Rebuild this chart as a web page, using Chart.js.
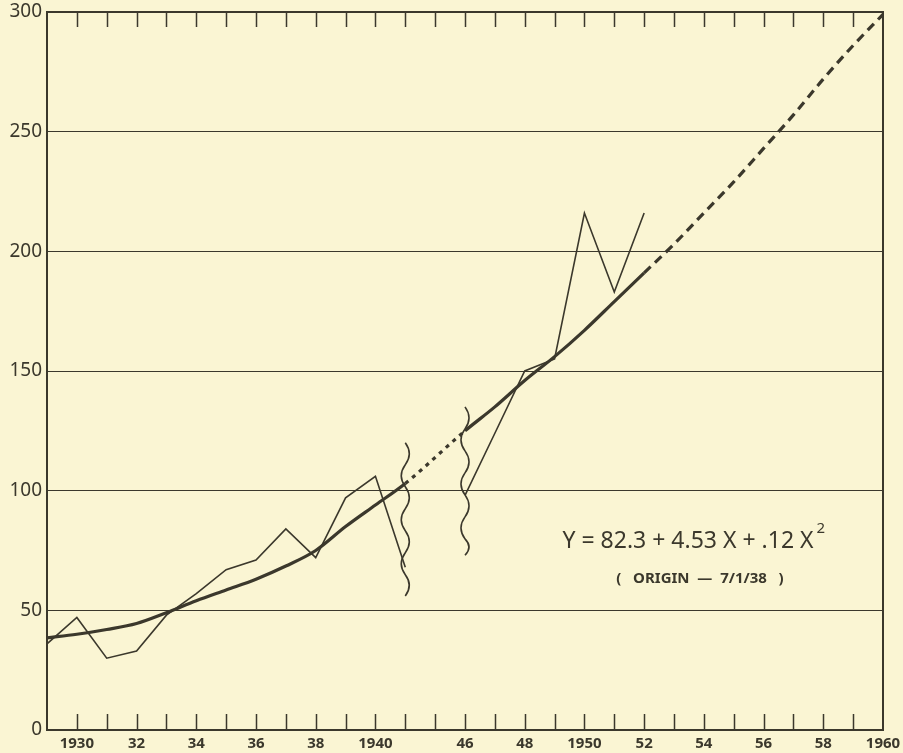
<!DOCTYPE html>
<html>
<head>
<meta charset="utf-8">
<script src="https://cdn.jsdelivr.net/npm/chart.js@4/dist/chart.umd.min.js"></script>
<style>
  html, body { margin: 0; padding: 0; background: #faf5d3; }
  #wrap { width: 903px; height: 753px; }
</style>
</head>
<body>
<div id="wrap"><canvas id="grafico"></canvas></div>
<script>
// valores
const anosAntes = [1929, 1930, 1931, 1932, 1933, 1934, 1935, 1936, 1937, 1938, 1939, 1940, 1941];
const realAntes = [36, 47, 30, 33, 48, 57, 67, 71, 84, 72, 97, 106, 68];
const anosDepois = [1946, 1947, 1948, 1949, 1950, 1951, 1952];
const realDepois = [98, 124, 150, 155, 216, 183, 216];

const anosTendencia = [1929, 1930, 1931, 1932, 1933, 1934, 1935, 1936, 1937, 1938, 1939, 1940, 1941,
                       1946, 1947, 1948, 1949, 1950, 1951, 1952, 1953, 1954, 1955, 1956, 1957, 1958, 1959, 1960];
const tendencia = [38.5, 40, 42, 44.5, 49, 54, 58.5, 63, 68.5, 75, 85, 94, 103,
                   125, 135, 146, 156, 167, 179, 191, 203, 216, 229, 243, 257, 272, 286, 299];

const yTicks = [0, 50, 100, 150, 200, 250, 300];
// quebras do eixo (rabiscos)
const quebras = [{ ano: 1941, de: 56, ate: 120 }, { ano: 1946, de: 73, ate: 135 }];

const cor = '#3b382c';

// eixo x comprimido: 1942-1945 cortados
function pos(ano) {
    return ano <= 1941 ? ano - 1929 : ano - 1932;
}
function anoDe(p) {
    if (p <= 12) return 1929 + p;
    if (p === 13) return null;
    return 1932 + p;
}
function rotulo(p) {
    const ano = anoDe(p);
    if (ano === null || ano % 2 !== 0) return '';
    if (ano % 10 === 0) return String(ano);
    return String(ano).slice(2);
}
const pontos = (anos, vals) => anos.map((a, i) => ({ x: pos(a), y: vals[i] }));

const extras = {
    id: 'extras',
    beforeDraw(chart) {
        const c = chart.ctx;
        c.save();
        c.fillStyle = '#faf5d3';
        c.fillRect(0, 0, chart.width, chart.height);
        c.restore();
    },
    afterDraw(chart) {
        const c = chart.ctx;
        const a = chart.chartArea;
        const sx = chart.scales.x;
        const sy = chart.scales.y;
        c.save();
        c.strokeStyle = cor;

        // moldura
        c.lineWidth = 2;
        c.strokeRect(a.left, a.top, a.right - a.left, a.bottom - a.top);

        // marcas para dentro, em cima e em baixo
        c.lineWidth = 1.5;
        for (let p = 1; p < 28; p++) {
            const x = Math.round(sx.getPixelForValue(p)) + 0.5;
            c.beginPath();
            c.moveTo(x, a.top);
            c.lineTo(x, a.top + 15);
            c.moveTo(x, a.bottom);
            c.lineTo(x, a.bottom - 16);
            c.stroke();
        }

        // rabiscos da quebra
        c.lineWidth = 1.6;
        quebras.forEach(q => {
            const x = sx.getPixelForValue(pos(q.ano));
            const y0 = sy.getPixelForValue(q.ate);
            const y1 = sy.getPixelForValue(q.de);
            const passo = 22;
            c.beginPath();
            c.moveTo(x, y0);
            let lado = 1;
            for (let y = y0; y < y1; y += passo) {
                const yf = Math.min(y + passo, y1);
                c.quadraticCurveTo(x + lado * 8, (y + yf) / 2, x, yf);
                lado = -lado;
            }
            c.stroke();
        });

        // equação
        c.fillStyle = cor;
        c.textBaseline = 'alphabetic';
        c.font = '23px "Noto Sans"';
        const eq = 'Y = 82.3 + 4.53 X + .12 X';
        const w = c.measureText(eq).width;
        const cx = 694;
        c.textAlign = 'left';
        c.fillText(eq, cx - (w + 12) / 2, 548);
        c.font = '15px "Noto Sans"';
        c.fillText('2', cx - (w + 12) / 2 + w + 3, 533);
        c.font = 'bold 15px "Noto Sans"';
        c.textAlign = 'center';
        c.fillText('(   ORIGIN  —  7/1/38   )', 700, 583);
        c.restore();
    }
};

new Chart(document.getElementById('grafico'), {
    type: 'line',
    data: {
        datasets: [{
            label: 'Real até 1941',
            data: pontos(anosAntes, realAntes),
            borderColor: cor,
            borderWidth: 1.6,
            pointRadius: 0,
            tension: 0
        }, {
            label: 'Real desde 1946',
            data: pontos(anosDepois, realDepois),
            borderColor: cor,
            borderWidth: 1.6,
            pointRadius: 0,
            tension: 0
        }, {
            label: 'Tendência',
            data: pontos(anosTendencia, tendencia),
            borderColor: cor,
            borderWidth: 3.2,
            pointRadius: 0,
            cubicInterpolationMode: 'monotone',
            segment: {
                borderDash: ctx => {
                    if (ctx.p0.parsed.x === 12) return [4, 5];
                    if (ctx.p0.parsed.x >= 20) return [9, 6];
                    return undefined;
                }
            }
        }]
    },
    options: {
        responsive: true,
        maintainAspectRatio: false,
        animation: false,
        layout: { padding: { top: 12, right: 20, left: 0, bottom: 0 } },
        plugins: {
            legend: { display: false },
            tooltip: { enabled: false }
        },
        scales: {
            x: {
                type: 'linear',
                min: 0,
                max: 28,
                afterFit: s => { s.height = 23; s.paddingLeft = 0; s.paddingRight = 0; },
                afterBuildTicks: s => { s.ticks = Array.from({ length: 29 }, (_, i) => ({ value: i })); },
                grid: { display: false, drawTicks: false },
                border: { display: false },
                ticks: {
                    autoSkip: false,
                    maxRotation: 0,
                    padding: 5,
                    color: cor,
                    font: { family: 'Noto Sans', size: 15, weight: 'bold' },
                    callback: v => rotulo(v)
                }
            },
            y: {
                min: 0,
                max: 300,
                afterFit: s => { s.width = 47; s.paddingTop = 0; s.paddingBottom = 0; },
                afterBuildTicks: s => { s.ticks = yTicks.map(v => ({ value: v })); },
                grid: { color: cor, lineWidth: 1, drawTicks: false },
                border: { display: false },
                ticks: {
                    padding: 5,
                    color: cor,
                    font: { family: 'Noto Sans', size: 19, lineHeight: 1.1 },
                    callback: v => String(v)
                }
            }
        }
    },
    plugins: [extras]
});
</script>
</body>
</html>
